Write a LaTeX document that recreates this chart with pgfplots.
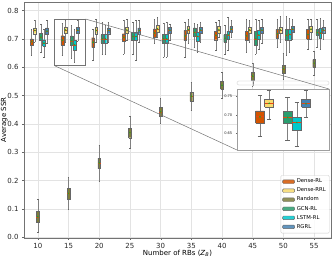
\documentclass[border=0pt]{standalone}
\usepackage{fontspec}
\setmainfont{DejaVu Sans}
\usepackage{pgfplots}
\pgfplotsset{compat=1.18}
\definecolor{cDRL}{RGB}{211,84,0}
\definecolor{cDRRL}{RGB}{247,218,110}
\definecolor{cRND}{RGB}{125,125,60}
\definecolor{cGCN}{RGB}{42,157,110}
\definecolor{cLSTM}{RGB}{0,200,205}
\definecolor{cRGRL}{RGB}{70,130,180}
\definecolor{medcol}{RGB}{230,70,20}
\definecolor{meancol}{RGB}{40,160,40}
% #1 pos, #2 lower whisker, #3 lower quartile, #4 median, #5 upper quartile, #6 upper whisker, #7 colour
% #8 half box width, #9 line width
\newcommand{\bxgen}[9]{%
  \pgfmathsetmacro\bxXL{#1-#8}\pgfmathsetmacro\bxXR{#1+#8}%
  \pgfmathsetmacro\bxCL{#1-0.5*#8}\pgfmathsetmacro\bxCR{#1+0.5*#8}%
  \edef\bxCMD{%
  \noexpand\addplot[forget plot, draw=black!50, line width=#9] coordinates {(#1,#2) (#1,#3)};
  \noexpand\addplot[forget plot, draw=black!50, line width=#9] coordinates {(#1,#5) (#1,#6)};
  \noexpand\addplot[forget plot, draw=black!60, line width=#9] coordinates {(\bxCL,#2) (\bxCR,#2)};
  \noexpand\addplot[forget plot, draw=black!60, line width=#9] coordinates {(\bxCL,#6) (\bxCR,#6)};
  \noexpand\addplot[forget plot, fill=#7, draw=black!60, line width=#9] coordinates {(\bxXL,#3) (\bxXR,#3) (\bxXR,#5) (\bxXL,#5) (\bxXL,#3)};
  \noexpand\addplot[forget plot, draw=medcol, line width=#9] coordinates {(\bxXL,#4) (\bxXR,#4)};
  \noexpand\addplot[forget plot, only marks, mark=triangle*, mark size=0.7pt, color=meancol] coordinates {(#1,#4)};
  }\bxCMD
}
\newcommand{\bx}[7]{\bxgen{#1}{#2}{#3}{#4}{#5}{#6}{#7}{0.225}{0.35pt}}
\newcommand{\bxi}[7]{\bxgen{#1}{#2}{#3}{#4}{#5}{#6}{#7}{0.24}{0.6pt}}
\begin{document}
\begin{tikzpicture}
\path[use as bounding box] (0pt,0pt) rectangle (333pt,257pt);
\begin{axis}[
  name=main, at={(24pt,19pt)}, anchor=south west, scale only axis,
  width=307pt, height=236pt,
  xmin=7.75, xmax=57.75, ymin=-0.003, ymax=0.83,
  xtick={10,15,...,55}, ytick={0,0.1,...,0.8},
  /pgf/number format/assume math mode=true,
  yticklabel style={/pgf/number format/.cd, fixed, fixed zerofill, precision=1},
  tick label style={font=\fontsize{7}{8}\selectfont, text=black!85},
  label style={font=\fontsize{7}{8}\selectfont},
  xlabel={Number of RBs (\textit{Z}\textsubscript{\textit{B}})},
  ylabel={Average SSR},
  xlabel style={yshift=6pt}, ylabel style={yshift=-7pt},
  tick align=outside, xtick pos=bottom, ytick pos=left,
  major tick length=2pt, tick style={black!60},
  grid=major, major grid style={gray!22, line width=0.6pt},
  axis line style={black!55},
  legend image code/.code={\draw[#1] (0pt,-1.8pt) rectangle (12pt,1.8pt);},
  legend style={at={(0.995,0.02)}, anchor=south east, font=\fontsize{5.3}{6}\selectfont,
    draw=gray!40, rounded corners=1pt, inner sep=1.5pt, row sep=-0.4pt,
    fill=white, fill opacity=0.85, text opacity=1},
  legend cell align=left,
]
% Dense-RL
\bx{9}{0.641}{0.677}{0.690}{0.700}{0.733}{cDRL}
\bx{14}{0.641}{0.678}{0.695}{0.711}{0.754}{cDRL}
\bx{19}{0.624}{0.670}{0.688}{0.704}{0.735}{cDRL}
\bx{24}{0.647}{0.692}{0.705}{0.718}{0.767}{cDRL}
\bx{29}{0.683}{0.706}{0.720}{0.735}{0.771}{cDRL}
\bx{34}{0.635}{0.694}{0.710}{0.730}{0.759}{cDRL}
\bx{39}{0.659}{0.697}{0.712}{0.727}{0.759}{cDRL}
\bx{44}{0.653}{0.694}{0.710}{0.726}{0.771}{cDRL}
\bx{49}{0.671}{0.702}{0.717}{0.733}{0.771}{cDRL}
\bx{54}{0.665}{0.698}{0.715}{0.733}{0.771}{cDRL}
% Dense-RRL
\bx{9.5}{0.688}{0.718}{0.729}{0.739}{0.767}{cDRRL}
\bx{14.5}{0.688}{0.720}{0.731}{0.742}{0.766}{cDRRL}
\bx{19.5}{0.688}{0.718}{0.729}{0.741}{0.771}{cDRRL}
\bx{24.5}{0.694}{0.720}{0.731}{0.741}{0.771}{cDRRL}
\bx{29.5}{0.706}{0.724}{0.735}{0.747}{0.776}{cDRRL}
\bx{34.5}{0.685}{0.720}{0.732}{0.744}{0.771}{cDRRL}
\bx{39.5}{0.706}{0.720}{0.732}{0.744}{0.765}{cDRRL}
\bx{44.5}{0.688}{0.721}{0.731}{0.741}{0.765}{cDRRL}
\bx{49.5}{0.688}{0.721}{0.731}{0.741}{0.780}{cDRRL}
\bx{54.5}{0.700}{0.724}{0.734}{0.744}{0.771}{cDRRL}
% Random
\bx{10}{0.017}{0.054}{0.072}{0.092}{0.133}{cRND}
\bx{15}{0.098}{0.134}{0.154}{0.172}{0.213}{cRND}
\bx{20}{0.197}{0.242}{0.262}{0.279}{0.324}{cRND}
\bx{25}{0.313}{0.351}{0.369}{0.385}{0.426}{cRND}
\bx{30}{0.401}{0.427}{0.442}{0.458}{0.489}{cRND}
\bx{35}{0.448}{0.480}{0.497}{0.512}{0.547}{cRND}
\bx{40}{0.489}{0.522}{0.536}{0.551}{0.583}{cRND}
\bx{45}{0.533}{0.553}{0.568}{0.582}{0.615}{cRND}
\bx{50}{0.556}{0.580}{0.593}{0.606}{0.650}{cRND}
\bx{55}{0.572}{0.600}{0.614}{0.627}{0.658}{cRND}
% GCN-RL
\bx{10.5}{0.653}{0.694}{0.706}{0.720}{0.753}{cGCN}
\bx{15.5}{0.631}{0.676}{0.693}{0.710}{0.748}{cGCN}
\bx{20.5}{0.647}{0.685}{0.700}{0.715}{0.759}{cGCN}
\bx{25.5}{0.647}{0.694}{0.708}{0.724}{0.759}{cGCN}
\bx{30.5}{0.635}{0.683}{0.700}{0.715}{0.755}{cGCN}
\bx{35.5}{0.671}{0.708}{0.722}{0.739}{0.755}{cGCN}
\bx{40.5}{0.647}{0.688}{0.702}{0.715}{0.747}{cGCN}
\bx{45.5}{0.647}{0.679}{0.700}{0.726}{0.771}{cGCN}
\bx{50.5}{0.641}{0.694}{0.712}{0.733}{0.780}{cGCN}
\bx{55.5}{0.671}{0.714}{0.722}{0.733}{0.771}{cGCN}
% LSTM-RL
\bx{11}{0.635}{0.673}{0.685}{0.697}{0.735}{cLSTM}
\bx{16}{0.616}{0.659}{0.679}{0.694}{0.734}{cLSTM}
\bx{21}{0.647}{0.685}{0.700}{0.715}{0.747}{cLSTM}
\bx{26}{0.624}{0.694}{0.708}{0.724}{0.765}{cLSTM}
\bx{31}{0.635}{0.683}{0.700}{0.715}{0.759}{cLSTM}
\bx{36}{0.653}{0.692}{0.708}{0.724}{0.753}{cLSTM}
\bx{41}{0.659}{0.700}{0.714}{0.727}{0.776}{cLSTM}
\bx{46}{0.665}{0.700}{0.714}{0.729}{0.765}{cLSTM}
\bx{51}{0.653}{0.697}{0.715}{0.733}{0.773}{cLSTM}
\bx{56}{0.665}{0.702}{0.720}{0.737}{0.773}{cLSTM}
% RGRL
\bx{11.5}{0.685}{0.715}{0.727}{0.739}{0.765}{cRGRL}
\bx{16.5}{0.693}{0.721}{0.730}{0.741}{0.766}{cRGRL}
\bx{21.5}{0.688}{0.718}{0.729}{0.739}{0.759}{cRGRL}
\bx{26.5}{0.688}{0.718}{0.729}{0.739}{0.765}{cRGRL}
\bx{31.5}{0.694}{0.720}{0.731}{0.741}{0.753}{cRGRL}
\bx{36.5}{0.688}{0.720}{0.731}{0.741}{0.759}{cRGRL}
\bx{41.5}{0.706}{0.724}{0.734}{0.744}{0.767}{cRGRL}
\bx{46.5}{0.683}{0.721}{0.731}{0.741}{0.768}{cRGRL}
\bx{51.5}{0.700}{0.724}{0.734}{0.744}{0.771}{cRGRL}
\bx{56.5}{0.700}{0.721}{0.731}{0.741}{0.765}{cRGRL}
\draw[black!55, line width=0.5pt] (axis cs:12.75,0.605) rectangle (axis cs:17.75,0.77);
\coordinate (rTR) at (axis cs:17.75,0.77);
\coordinate (rBL) at (axis cs:12.75,0.605);
\addlegendimage{fill=cDRL, draw=black!60}\addlegendentry{Dense-RL}
\addlegendimage{fill=cDRRL, draw=black!60}\addlegendentry{Dense-RRL}
\addlegendimage{fill=cRND, draw=black!60}\addlegendentry{Random}
\addlegendimage{fill=cGCN, draw=black!60}\addlegendentry{GCN-RL}
\addlegendimage{fill=cLSTM, draw=black!60}\addlegendentry{LSTM-RL}
\addlegendimage{fill=cRGRL, draw=black!60}\addlegendentry{RGRL}
\end{axis}
\draw[gray!20, line width=0.8pt, rounded corners=2pt] (237pt,172pt) rectangle (329pt,176pt);
\begin{axis}[
  name=ins, at={(237pt,107pt)}, anchor=south west, scale only axis,
  width=92pt, height=61pt,
  xmin=12.75, xmax=17.75, ymin=0.605, ymax=0.77,
  xtick=\empty, ytick={0.65,0.70,0.75},
  /pgf/number format/assume math mode=true,
  yticklabel style={/pgf/number format/.cd, fixed, fixed zerofill, precision=2},
  tick label style={font=\fontsize{3.6}{4}\selectfont, text=black!85},
  tick align=outside, ytick pos=left, major tick length=1.2pt, tick style={black!60},
  axis background/.style={fill=white},
  axis line style={gray!75, line width=0.8pt},
]
\bxi{14}{0.641}{0.678}{0.695}{0.711}{0.754}{cDRL}
\bxi{14.5}{0.688}{0.720}{0.731}{0.742}{0.766}{cDRRL}
\bxi{15.5}{0.631}{0.676}{0.693}{0.710}{0.748}{cGCN}
\bxi{16}{0.616}{0.659}{0.679}{0.694}{0.734}{cLSTM}
\bxi{16.5}{0.693}{0.721}{0.730}{0.741}{0.766}{cRGRL}
\coordinate (iTR) at (rel axis cs:1,1);
\coordinate (iBL) at (rel axis cs:0,0);
\end{axis}
\draw[black!55, line width=0.5pt] (rTR) -- (iTR);
\draw[black!55, line width=0.5pt] (rBL) -- (iBL);
\end{tikzpicture}
\end{document}
